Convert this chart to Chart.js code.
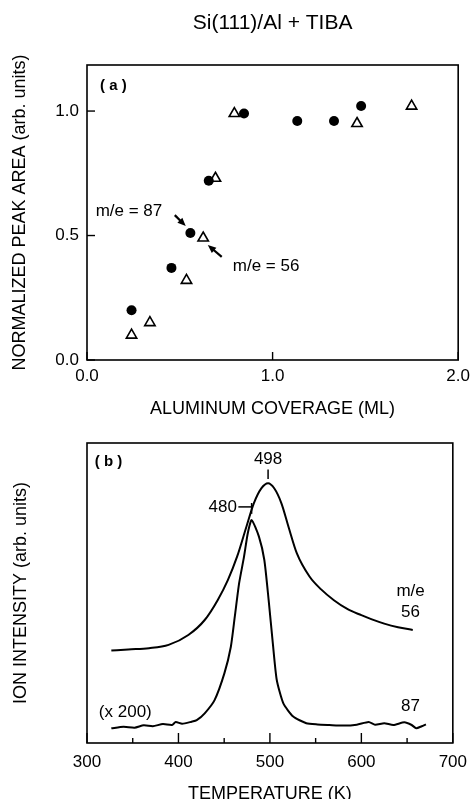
<!DOCTYPE html>
<html>
<head>
<meta charset="utf-8">
<script src="https://cdn.jsdelivr.net/npm/chart.js@4.4.0/dist/chart.umd.min.js"></script>
<style>
  html, body { margin: 0; padding: 0; background: #fff; overflow: hidden; }
  canvas { position: absolute; left: 0; }
  #topPanel { top: 0; }
  #bottomPanel { top: 420px; }
</style>
</head>
<body>
<canvas id="topPanel" width="476" height="420"></canvas>
<canvas id="bottomPanel" width="476" height="385"></canvas>
<script>
// (a) normalized peak area vs. aluminum coverage
var coverage87 = [0.24, 0.455, 0.557, 0.656, 0.846, 1.133, 1.331, 1.477];
var area87     = [0.20, 0.37, 0.51, 0.72, 0.99, 0.96, 0.96, 1.02];
var coverage56 = [0.24, 0.339, 0.536, 0.626, 0.692, 0.794, 1.455, 1.749];
var area56     = [0.10, 0.15, 0.32, 0.49, 0.73, 0.99, 0.95, 1.02];

// (b) thermal desorption traces, arbitrary intensity
var temp56   = [326.6, 345, 367.7, 389.2, 410.8, 428.7, 443, 454, 464.1, 474.3, 482.4, 490.6, 498,
                504.7, 512.6, 520.3, 529.5, 543.3, 556, 570, 585, 600, 611.5, 625, 640.1, 656.2];
var signal56 = [30.8, 31.2, 31.6, 32.7, 36, 41, 47.7, 54.3, 62.1, 72.1, 79.9, 84.9, 86.6,
                84.9, 79.9, 72.1, 63.2, 55.5, 51.2, 47.6, 44.6, 42.6, 41.2, 39.8, 38.6, 37.7];
var temp87   = [326.6, 340, 352, 362, 372, 383, 393, 397, 404, 414.3, 420, 428.7, 439.5, 450.2,
                457.3, 461.6, 466.3, 471.7, 475.8, 480, 488, 493.9, 498.6, 503.2, 507.5, 514.7,
                525.5, 539.8, 552, 565, 580, 595, 608, 615, 625, 635, 647, 655, 660, 666, 670.6];
var signal87 = [4.9, 5.4, 5.1, 5.9, 5.6, 6.3, 6.0, 7.0, 6.4, 7.1, 7.6, 9.9, 14.3, 23.2,
                32.1, 42.1, 53.2, 62.1, 69.9, 74.3, 68.8, 61, 47.7, 33.2, 21, 13.2,
                8.8, 6.6, 6.2, 6.0, 5.8, 6.1, 7.0, 6.1, 6.6, 6.0, 6.9, 6.0, 4.9, 5.6, 6.2];
var peak56 = 498;
var peak87 = 480;

var FONT = '"Liberation Sans", Arial, Helvetica, sans-serif';

function pairs(xs, ys) {
  return xs.map(function (x, i) { return { x: x, y: ys[i] }; });
}

// box around the plot plus inward tick marks (short ones for unlabelled ticks)
var framePlugin = {
  id: 'frame',
  afterDraw: function (chart, args, opts) {
    var a = chart.chartArea, ctx = chart.ctx;
    ctx.save();
    ctx.strokeStyle = '#000';
    ctx.lineWidth = 1.6;
    ctx.strokeRect(a.left, a.top, a.right - a.left, a.bottom - a.top);
    ctx.lineWidth = 1.4;
    (opts.axes || []).forEach(function (id) {
      var scale = chart.scales[id];
      scale.ticks.forEach(function (t) {
        var len = t.label === '' ? opts.minor : opts.major;
        var p = scale.getPixelForValue(t.value);
        ctx.beginPath();
        if (id === 'x') { ctx.moveTo(p, a.bottom); ctx.lineTo(p, a.bottom - len); }
        else { ctx.moveTo(a.left, p); ctx.lineTo(a.left + len, p); }
        ctx.stroke();
      });
    });
    ctx.restore();
  }
};

function px(chart, x, y) {
  return [chart.scales.x.getPixelForValue(x), chart.scales.y.getPixelForValue(y)];
}

function label(chart, str, x, y, align, font) {
  var ctx = chart.ctx, p = px(chart, x, y);
  ctx.save();
  ctx.fillStyle = '#000';
  ctx.font = font || ('17px ' + FONT);
  ctx.textAlign = align || 'center';
  ctx.textBaseline = 'middle';
  ctx.fillText(str, p[0], p[1]);
  ctx.restore();
}

function segment(chart, x1, y1, x2, y2, w) {
  var ctx = chart.ctx, p = px(chart, x1, y1), q = px(chart, x2, y2);
  ctx.save();
  ctx.strokeStyle = '#000';
  ctx.lineWidth = w || 1.5;
  ctx.beginPath();
  ctx.moveTo(p[0], p[1]);
  ctx.lineTo(q[0], q[1]);
  ctx.stroke();
  ctx.restore();
}

function arrow(chart, x1, y1, x2, y2) {
  var ctx = chart.ctx, p = px(chart, x1, y1), q = px(chart, x2, y2);
  var ang = Math.atan2(q[1] - p[1], q[0] - p[0]);
  ctx.save();
  ctx.strokeStyle = '#000';
  ctx.fillStyle = '#000';
  ctx.lineWidth = 2.2;
  ctx.beginPath();
  ctx.moveTo(p[0], p[1]);
  ctx.lineTo(q[0] - 5 * Math.cos(ang), q[1] - 5 * Math.sin(ang));
  ctx.stroke();
  ctx.beginPath();
  ctx.moveTo(q[0], q[1]);
  ctx.lineTo(q[0] - 9 * Math.cos(ang - 0.4), q[1] - 9 * Math.sin(ang - 0.4));
  ctx.lineTo(q[0] - 9 * Math.cos(ang + 0.4), q[1] - 9 * Math.sin(ang + 0.4));
  ctx.closePath();
  ctx.fill();
  ctx.restore();
}

var topNotes = {
  id: 'topNotes',
  afterDraw: function (chart) {
    var a = chart.chartArea, ctx = chart.ctx;
    ctx.save();
    ctx.fillStyle = '#000';
    ctx.font = '21px ' + FONT;
    ctx.textAlign = 'center';
    ctx.textBaseline = 'middle';
    ctx.fillText('Si(111)/Al + TIBA', (a.left + a.right) / 2, 23);
    ctx.restore();
    label(chart, '( a )', 0.07, 1.10, 'left', 'bold 15px ' + FONT);
    label(chart, 'm/e = 87', 0.226, 0.598);
    arrow(chart, 0.473, 0.582, 0.532, 0.538);
    label(chart, 'm/e = 56', 0.965, 0.378);
    arrow(chart, 0.726, 0.414, 0.651, 0.462);
  }
};

var bottomNotes = {
  id: 'bottomNotes',
  afterDraw: function (chart) {
    label(chart, '( b )', 308.6, 93.7, 'left', 'bold 15px ' + FONT);
    label(chart, String(peak56), peak56, 94.6);
    segment(chart, peak56, 91.2, peak56, 88);
    label(chart, String(peak87), 464, 78.7, 'right');
    segment(chart, 465.5, 78.7, peak87, 78.7);
    segment(chart, peak87, 80, peak87, 76.4);
    label(chart, 'm/e', 653.8, 50.7);
    label(chart, '56', 653.8, 43.7);
    label(chart, '87', 653.8, 12.3);
    label(chart, '(x 200)', 341.9, 10.3);
  }
};

Chart.defaults.font.family = FONT;
Chart.defaults.color = '#000';

new Chart(document.getElementById('topPanel'), {
  type: 'scatter',
  data: {
    datasets: [
      {
        label: 'm/e = 87',
        data: pairs(coverage87, area87),
        pointStyle: 'circle',
        pointRadius: 5,
        backgroundColor: '#000',
        borderColor: '#000',
        borderWidth: 0
      },
      {
        label: 'm/e = 56',
        data: pairs(coverage56, area56),
        pointStyle: 'triangle',
        pointRadius: 6,
        backgroundColor: '#fff',
        borderColor: '#000',
        borderWidth: 1.6
      }
    ]
  },
  options: {
    responsive: false,
    animation: false,
    events: [],
    layout: { padding: { top: 65, right: 17, left: 0, bottom: 0 } },
    plugins: {
      legend: { display: false },
      tooltip: { enabled: false },
      frame: { axes: ['x', 'y'], major: 8, minor: 5 }
    },
    scales: {
      x: {
        type: 'linear',
        min: 0,
        max: 2,
        grid: { display: false, drawTicks: false },
        border: { display: false },
        ticks: {
          stepSize: 1,
          padding: 6,
          font: { size: 17 },
          callback: function (v) { return v.toFixed(1); }
        },
        title: {
          display: true,
          text: 'ALUMINUM COVERAGE (ML)',
          font: { size: 18 },
          padding: { top: 0, bottom: 0 }
        },
        afterFit: function (s) { s.height = 60; }
      },
      y: {
        type: 'linear',
        min: 0,
        max: 1.185,
        grid: { display: false, drawTicks: false },
        border: { display: false },
        ticks: {
          stepSize: 0.5,
          includeBounds: false,
          padding: 8,
          font: { size: 17 },
          callback: function (v) { return v.toFixed(1); }
        },
        title: {
          display: true,
          text: 'NORMALIZED PEAK AREA (arb. units)',
          font: { size: 18 },
          padding: { top: 9, bottom: 0 }
        },
        afterFit: function (s) { s.width = 87; }
      }
    }
  },
  plugins: [framePlugin, topNotes]
});

new Chart(document.getElementById('bottomPanel'), {
  type: 'line',
  data: {
    datasets: [
      {
        label: 'm/e 56',
        data: pairs(temp56, signal56),
        borderColor: '#000',
        borderWidth: 2,
        pointRadius: 0,
        fill: false,
        cubicInterpolationMode: 'monotone'
      },
      {
        label: 'm/e 87',
        data: pairs(temp87, signal87),
        borderColor: '#000',
        borderWidth: 2,
        pointRadius: 0,
        fill: false,
        tension: 0.2
      }
    ]
  },
  options: {
    responsive: false,
    animation: false,
    events: [],
    layout: { padding: { top: 23, right: 17, left: 0, bottom: 0 } },
    plugins: {
      legend: { display: false },
      tooltip: { enabled: false },
      frame: { axes: ['x'], major: 10, minor: 5 }
    },
    scales: {
      x: {
        type: 'linear',
        min: 300,
        max: 700,
        grid: { display: false, drawTicks: false },
        border: { display: false },
        ticks: {
          stepSize: 50,
          autoSkip: false,
          maxRotation: 0,
          padding: 9,
          font: { size: 17 },
          callback: function (v) { return v % 100 === 0 ? String(v) : ''; }
        },
        title: {
          display: true,
          text: 'TEMPERATURE (K)',
          font: { size: 18 },
          padding: { top: 0, bottom: 0 }
        },
        afterFit: function (s) { s.height = 62; }
      },
      y: {
        type: 'linear',
        min: 0,
        max: 100,
        grid: { display: false, drawTicks: false },
        border: { display: false },
        ticks: { display: false },
        title: {
          display: true,
          text: 'ION INTENSITY (arb. units)',
          font: { size: 18 },
          padding: { top: 10, bottom: 0 }
        },
        afterFit: function (s) { s.width = 87; }
      }
    }
  },
  plugins: [framePlugin, bottomNotes]
});
</script>
</body>
</html>
